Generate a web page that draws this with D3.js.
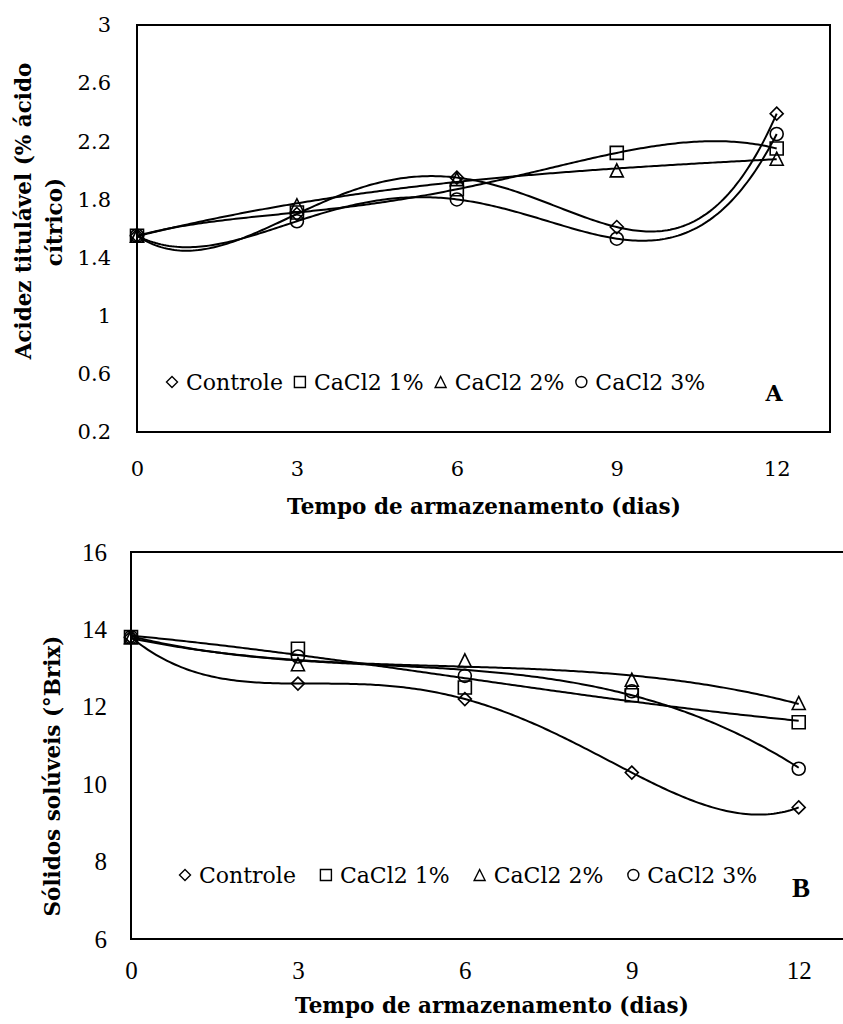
<!DOCTYPE html>
<html>
<head>
<meta charset="utf-8">
<script src="https://cdn.jsdelivr.net/npm/d3@7"></script>
<style>
  body { margin: 0; background: #fff; }
  svg { display: block; }
</style>
</head>
<body>
<svg id="chart"></svg>
<script>
// Data
const days = [0, 3, 6, 9, 12];
const seriesNames = ["Controle", "CaCl2 1%", "CaCl2 2%", "CaCl2 3%"];

// A - Acidez titulável (% ácido cítrico)
const acidezControle = [1.55, 1.70, 1.95, 1.61, 2.39];
const acidezCaCl1 = [1.55, 1.71, 1.87, 2.12, 2.15];
const acidezCaCl2 = [1.55, 1.76, 1.94, 2.00, 2.08];
const acidezCaCl3 = [1.55, 1.65, 1.80, 1.53, 2.25];

// B - Sólidos solúveis (°Brix)
const solidosControle = [13.8, 12.6, 12.2, 10.3, 9.4];
const solidosCaCl1 = [13.8, 13.5, 12.5, 12.3, 11.6];
const solidosCaCl2 = [13.8, 13.1, 13.2, 12.7, 12.1];
const solidosCaCl3 = [13.8, 13.3, 12.8, 12.4, 10.4];

// polynomial trendline order for each series
const trendOrderA = [4, 4, 3, 4];
const trendOrderB = [4, 3, 3, 3];

const acidezTicks = [0.2, 0.6, 1, 1.4, 1.8, 2.2, 2.6, 3];
const solidosTicks = [6, 8, 10, 12, 14, 16];
const dayTicks = [0, 3, 6, 9, 12];

const width = 843;
const height = 1024;
const serif = "'DejaVu Serif', serif";
const times = "'Liberation Serif', 'Times New Roman', serif";

const svg = d3.select("#chart")
    .attr("width", width)
    .attr("height", height);

svg.append("rect").attr("width", width).attr("height", height).attr("fill", "#fff");

// marker shapes (Excel style, hollow)
const markerTypes = [
    { draw(ctx, s) { const h = Math.sqrt(s) / 2; ctx.moveTo(0, -h); ctx.lineTo(h, 0); ctx.lineTo(0, h); ctx.lineTo(-h, 0); ctx.closePath(); } },
    { draw(ctx, s) { const h = Math.sqrt(s) / 2; ctx.rect(-h, -h, 2 * h, 2 * h); } },
    { draw(ctx, s) { const h = Math.sqrt(s) / 2; ctx.moveTo(0, -h); ctx.lineTo(h, h); ctx.lineTo(-h, h); ctx.closePath(); } },
    { draw(ctx, s) { const h = Math.sqrt(s) / 2; ctx.moveTo(h, 0); ctx.arc(0, 0, h, 0, 2 * Math.PI); } }
];

// least squares polynomial fit (x scaled to 0..1)
function polyfit(xs, ys, order) {
    const n = order + 1;
    const A = Array.from({ length: n }, () => new Array(n + 1).fill(0));
    xs.forEach((x, k) => {
        const t = x / 12;
        for (let i = 0; i < n; i++) {
            for (let j = 0; j < n; j++) A[i][j] += Math.pow(t, i + j);
            A[i][n] += Math.pow(t, i) * ys[k];
        }
    });
    for (let c = 0; c < n; c++) {
        let p = c;
        for (let r = c + 1; r < n; r++) if (Math.abs(A[r][c]) > Math.abs(A[p][c])) p = r;
        [A[c], A[p]] = [A[p], A[c]];
        for (let r = 0; r < n; r++) {
            if (r === c) continue;
            const f = A[r][c] / A[c][c];
            for (let k = c; k <= n; k++) A[r][k] -= f * A[c][k];
        }
    }
    const coef = A.map((row, i) => row[n] / row[i]);
    return x => coef.reduce((s, c, i) => s + c * Math.pow(x / 12, i), 0);
}

const panels = [
    {
        label: "A",
        series: [acidezControle, acidezCaCl1, acidezCaCl2, acidezCaCl3],
        orders: trendOrderA,
        yTicks: acidezTicks,
        yDomain: [0.2, 3],
        xDomain: [0, 13],
        box: { left: 137, right: 830, top: 25, bottom: 432 },
        tickFont: serif, tickSize: 21, yPad: 26, xPad: 29,
        yTitle: [
            { text: "Acidez titulável (% ácido", x: 31, y: 211 },
            { text: "cítrico)", x: 62, y: 222 }
        ],
        xTitle: { x: 484, y: 514 },
        legend: { x: 172, y: 382, textGap: 14, itemGap: 17 },
        tag: { x: 774, y: 401, font: serif, size: 22 }
    },
    {
        label: "B",
        series: [solidosControle, solidosCaCl1, solidosCaCl2, solidosCaCl3],
        orders: trendOrderB,
        yTicks: solidosTicks,
        yDomain: [6, 16],
        xDomain: [0, 14],
        box: { left: 131, right: 910, top: 552, bottom: 939 },
        tickFont: times, tickSize: 25, yPad: 24, xPad: 22,
        yTitle: [
            { text: "Sólidos solúveis (°Brix)", x: 60, y: 776 }
        ],
        xTitle: { x: 492, y: 1013 },
        legend: { x: 185, y: 875, textGap: 14, itemGap: 30 },
        tag: { x: 801, y: 897, font: times, size: 27 }
    }
];

panels.forEach(p => {
    const g = svg.append("g");

    const x = d3.scaleLinear()
        .domain(p.xDomain)
        .range([p.box.left, p.box.right]);

    const y = d3.scaleLinear()
        .domain(p.yDomain)
        .range([p.box.bottom, p.box.top]);

    // Y axis labels
    g.append("g")
        .attr("transform", `translate(${p.box.left},0)`)
        .call(d3.axisLeft(y).tickValues(p.yTicks).tickSize(0).tickPadding(p.yPad).tickFormat(d => String(d)))
        .call(a => a.select(".domain").remove())
        .selectAll("text")
        .style("font-family", p.tickFont)
        .style("font-size", p.tickSize + "px")
        .attr("fill", "#000");

    // X axis labels
    g.append("g")
        .attr("transform", `translate(0,${p.box.bottom})`)
        .call(d3.axisBottom(x).tickValues(dayTicks).tickSize(0).tickPadding(p.xPad).tickFormat(d => String(d)))
        .call(a => a.select(".domain").remove())
        .selectAll("text")
        .style("font-family", p.tickFont)
        .style("font-size", p.tickSize + "px")
        .attr("fill", "#000");

    // plot frame
    g.append("rect")
        .attr("x", p.box.left)
        .attr("y", p.box.top)
        .attr("width", p.box.right - p.box.left)
        .attr("height", p.box.bottom - p.box.top)
        .attr("fill", "none")
        .attr("stroke", "#000")
        .attr("stroke-width", 2);

    // Polynomial trendlines
    const line = d3.line().x(d => x(d[0])).y(d => y(d[1]));
    p.series.forEach((vals, i) => {
        const f = polyfit(days, vals, p.orders[i]);
        const pts = d3.range(0, 12.001, 0.05).map(t => [t, f(t)]);
        g.append("path")
            .datum(pts)
            .attr("d", line)
            .attr("fill", "none")
            .attr("stroke", "#000")
            .attr("stroke-width", 2);
    });

    // markers
    p.series.forEach((vals, i) => {
        g.append("g")
            .selectAll("path")
            .data(vals)
            .join("path")
            .attr("transform", (d, k) => `translate(${x(days[k])},${y(d)})`)
            .attr("d", d3.symbol().type(markerTypes[i]).size(13 * 13))
            .attr("fill", "none")
            .attr("stroke", "#000")
            .attr("stroke-width", 1.6);
    });

    // Y title
    p.yTitle.forEach(t => {
        g.append("text")
            .attr("transform", `translate(${t.x},${t.y}) rotate(-90)`)
            .attr("text-anchor", "middle")
            .style("font-family", serif)
            .style("font-size", "21.5px")
            .style("font-weight", "bold")
            .text(t.text);
    });

    // X title
    g.append("text")
        .attr("x", p.xTitle.x)
        .attr("y", p.xTitle.y)
        .attr("text-anchor", "middle")
        .style("font-family", serif)
        .style("font-size", "21.5px")
        .style("font-weight", "bold")
        .text("Tempo de armazenamento (dias)");

    // Legend
    let lx = p.legend.x;
    seriesNames.forEach((name, i) => {
        g.append("path")
            .attr("transform", `translate(${lx},${p.legend.y})`)
            .attr("d", d3.symbol().type(markerTypes[i]).size(11 * 11))
            .attr("fill", "none")
            .attr("stroke", "#000")
            .attr("stroke-width", 1.4);
        const txt = g.append("text")
            .attr("x", lx + p.legend.textGap)
            .attr("y", p.legend.y + 8)
            .style("font-family", serif)
            .style("font-size", "22px")
            .text(name);
        lx += p.legend.textGap + txt.node().getComputedTextLength() + p.legend.itemGap;
    });

    // panel letter
    g.append("text")
        .attr("x", p.tag.x)
        .attr("y", p.tag.y)
        .attr("text-anchor", "middle")
        .style("font-family", p.tag.font)
        .style("font-size", p.tag.size + "px")
        .style("font-weight", "bold")
        .text(p.label);
});
</script>
</body>
</html>
